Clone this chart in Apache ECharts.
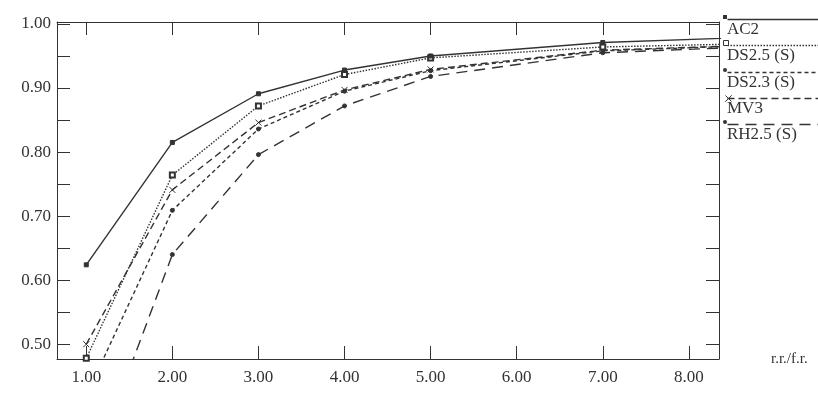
<!DOCTYPE html>
<html>
<head>
<meta charset="utf-8">
<script src="https://cdn.jsdelivr.net/npm/echarts@6/dist/echarts.min.js"></script>
<style>
  html, body { margin: 0; padding: 0; background: #fff; }
  #chart { width: 818px; height: 404px; }
</style>
</head>
<body>
<div id="chart"></div>
<script>
// x positions (r.r./f.r.) and the series values
let xs = [1, 2, 3, 4, 5, 7, 10]
let ac2 = [0.624, 0.815, 0.891, 0.928, 0.950, 0.971, 0.985]
let ds25 = [0.478, 0.764, 0.872, 0.921, 0.947, 0.964, 0.973]
let ds23 = [0.420, 0.709, 0.836, 0.895, 0.927, 0.958, 0.972]
let mv3 = [0.500, 0.741, 0.846, 0.897, 0.929, 0.959, 0.972]
let rh25 = [0.280, 0.640, 0.796, 0.872, 0.918, 0.955, 0.971]
let xTicks = [1, 2, 3, 4, 5, 6, 7, 8]
let yTicks = [0.50, 0.55, 0.60, 0.65, 0.70, 0.75, 0.80, 0.85, 0.90, 0.95, 1.00]
let yLabels = [0.50, 0.60, 0.70, 0.80, 0.90, 1.00]
let names = ['AC2', 'DS2.5 (S)', 'DS2.3 (S)', 'MV3', 'RH2.5 (S)']

let ink = '#333'
let font = '"Liberation Serif", "DejaVu Serif", serif'
let xPath = 'path://M0,0L10,10M10,0L0,10'

let styles = [
  {type: 'solid', symbol: 'rect', size: 4},
  {type: [1.5, 1.5], symbol: 'emptyRect', size: 5},
  {type: [4, 3], symbol: 'circle', size: 4},
  {type: [7, 4], symbol: xPath, size: 6},
  {type: [11, 7], symbol: 'circle', size: 4}
]
let values = [ac2, ds25, ds23, mv3, rh25]

function pairs(arr) {
  return xs.map((x, i) => [x, arr[i]])
}

let chart = echarts.init(document.getElementById('chart'))

let series = values.map((v, i) => ({
  name: names[i],
  type: 'line',
  data: pairs(v),
  symbol: styles[i].symbol,
  symbolSize: styles[i].size,
  showSymbol: true,
  clip: true,
  animation: false,
  z: 10 - i,
  lineStyle: {color: ink, width: 1.4, type: styles[i].type},
  itemStyle: {color: ink, borderColor: ink, borderWidth: i == 1 ? 0.8 : 1}
}))

// hand-drawn legend: line with marker at left end, label underneath
let legendY = [17, 43, 70, 96, 122]
let graphic = []
names.forEach((n, i) => {
  graphic.push({
    type: 'line', left: 725, top: legendY[i],
    shape: {x1: 0, y1: 0, x2: 93, y2: 0},
    style: {stroke: ink, lineWidth: 1.4, lineDash: styles[i].type == 'solid' ? null : styles[i].type}
  })
  let mk
  if (i == 1) {
    mk = {type: 'rect', left: 723, top: legendY[i] - 3, shape: {x: 0, y: 0, width: 5, height: 5},
      style: {fill: '#fff', stroke: ink, lineWidth: 1}}
  } else if (i == 3) {
    mk = {type: 'polyline', left: 723, top: legendY[i] - 3,
      shape: {points: [[0, 0], [3, 3], [6, 0], [3, 3], [0, 6], [3, 3], [6, 6]]},
      style: {stroke: ink, lineWidth: 1, fill: null}}
  } else if (i == 0) {
    mk = {type: 'rect', left: 723, top: legendY[i] - 2, shape: {x: 0, y: 0, width: 4, height: 4},
      style: {fill: ink}}
  } else {
    mk = {type: 'circle', left: 723, top: legendY[i] - 2, shape: {r: 2}, style: {fill: ink}}
  }
  mk.z = 100
  graphic.push(mk)
  graphic.push({
    type: 'text', left: 727, top: legendY[i] + 4,
    style: {text: n, fill: ink, font: '17px ' + font}
  })
})

let option = {
  backgroundColor: '#fff',
  animation: false,
  grid: {left: 57, right: 99, top: 22, bottom: 45},
  xAxis: [
    {
      type: 'value', min: 0.66, max: 8.35,
      name: 'r.r./f.r.', nameLocation: 'end', nameGap: 52,
      nameTextStyle: {color: ink, fontFamily: font, fontSize: 15, verticalAlign: 'middle', padding: [6, 0, 0, 0]},
      axisLine: {show: true, lineStyle: {color: ink, width: 1}},
      axisTick: {show: true, inside: true, length: 13, customValues: xTicks, lineStyle: {color: ink}},
      axisLabel: {customValues: xTicks, color: ink, fontFamily: font, fontSize: 17, margin: 10,
        formatter: v => v.toFixed(2)},
      splitLine: {show: false}
    },
    {
      type: 'value', position: 'top', min: 0.66, max: 8.35,
      axisLine: {show: true, lineStyle: {color: ink, width: 1}},
      axisTick: {show: true, inside: true, length: 13, customValues: xTicks, lineStyle: {color: ink}},
      axisLabel: {show: false},
      splitLine: {show: false}
    }
  ],
  yAxis: [
    {
      type: 'value', min: 0.477, max: 1.003,
      axisLine: {show: true, lineStyle: {color: ink, width: 1}},
      axisTick: {show: true, inside: true, length: 13, customValues: yTicks, lineStyle: {color: ink}},
      axisLabel: {customValues: yLabels, color: ink, fontFamily: font, fontSize: 17, margin: 6,
        formatter: v => v.toFixed(2)},
      splitLine: {show: false}
    },
    {
      type: 'value', position: 'right', min: 0.477, max: 1.003,
      axisLine: {show: true, lineStyle: {color: ink, width: 1}},
      axisTick: {show: true, inside: true, length: 13, customValues: yTicks, lineStyle: {color: ink}},
      axisLabel: {show: false},
      splitLine: {show: false}
    }
  ],
  graphic: graphic,
  series: series
}

chart.setOption(option)
</script>
</body>
</html>
